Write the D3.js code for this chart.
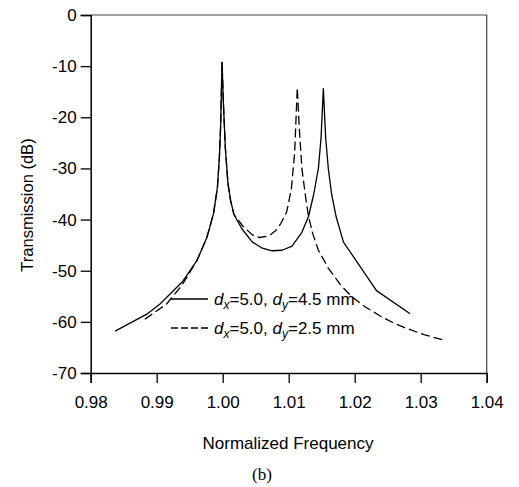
<!DOCTYPE html>
<html>
<head>
<meta charset="utf-8">
<script src="https://cdn.jsdelivr.net/npm/d3@7"></script>
<style>
  body { margin: 0; background: #fff; }
  svg { display: block; font-family: "Liberation Sans", Arial, sans-serif; }
</style>
</head>
<body>
<div id="chart"></div>
<script>
// 读图得到的数据: 归一化频率 / 传输 (dB)
const xTicks = [0.98, 0.99, 1.00, 1.01, 1.02, 1.03, 1.04];
const yTicks = [0, -10, -20, -30, -40, -50, -60, -70];

// d_x=5.0, d_y=4.5 mm (实线)
const solidF = [0.9837, 0.9885, 0.9905, 0.9940, 0.9961, 0.9976, 0.9986, 0.9992, 0.9995, 0.9997, 0.9999,
  1.0001, 1.0004, 1.0008, 1.0012, 1.0017, 1.0029, 1.0045, 1.0060, 1.0075, 1.0090, 1.0105, 1.0120, 1.0130,
  1.0138, 1.0145, 1.0149, 1.01525, 1.0156, 1.0160, 1.0165, 1.0172, 1.0183, 1.0233, 1.0284];
const solidDb = [-61.8, -58.5, -56.5, -52.0, -48.0, -43.5, -38.9, -33.7, -27.8, -21.2, -9.2,
  -17.0, -26.0, -33.0, -36.3, -39.0, -41.8, -44.4, -45.6, -46.1, -46.0, -45.2, -42.5, -39.4,
  -35.0, -30.0, -24.0, -14.4, -24.0, -30.0, -35.0, -39.5, -44.4, -53.9, -58.4];

// d_x=5.0, d_y=2.5 mm (虚线)
const dashF = [0.9882, 0.9915, 0.9938, 0.9961, 0.9976, 0.9986, 0.9992, 0.9995, 0.9997, 0.9999,
  1.0001, 1.0004, 1.0008, 1.0012, 1.0017, 1.0030, 1.0045, 1.0056, 1.0070, 1.0080, 1.0088, 1.0097,
  1.0104, 1.0109, 1.0113, 1.0116, 1.0120, 1.0125, 1.0130, 1.0137, 1.0145, 1.0160, 1.0180, 1.0195,
  1.0215, 1.0238, 1.0260, 1.0279, 1.0305, 1.0333];
const dashDb = [-59.5, -56.5, -52.9, -48.0, -43.5, -38.9, -33.7, -27.8, -21.2, -9.2,
  -17.0, -26.0, -33.0, -36.3, -39.0, -41.2, -43.0, -43.5, -43.2, -42.2, -40.8, -38.5,
  -34.0, -27.0, -14.2, -22.0, -30.0, -35.0, -39.4, -43.0, -46.0, -49.5, -53.0, -55.0,
  -57.0, -58.8, -60.3, -61.3, -62.5, -63.5];

const W = 519, H = 487;
const margin = { left: 90.7, right: 32.3, top: 15, bottom: 114 };

const svg = d3.select('#chart').append('svg')
  .attr('width', W)
  .attr('height', H);

const x = d3.scaleLinear().domain([0.98, 1.04]).range([margin.left, W - margin.right]);
const y = d3.scaleLinear().domain([-70, 0]).range([H - margin.bottom, margin.top]);

// 外框 (上, 右)
svg.append('path')
  .attr('d', `M${x(0.98)},${y(0)}H${x(1.04)}V${y(-70)}`)
  .attr('fill', 'none')
  .attr('stroke', '#444')
  .attr('stroke-width', 1.2);

// 坐标轴
const xAxis = svg.append('g')
  .attr('transform', `translate(0,${y(-70)})`)
  .call(d3.axisBottom(x).tickValues(xTicks).tickSize(10).tickPadding(13).tickFormat(d3.format('.2f')));
const yAxis = svg.append('g')
  .attr('transform', `translate(${x(0.98)},0)`)
  .call(d3.axisLeft(y).tickValues(yTicks).tickSize(10).tickPadding(4).tickFormat(d3.format('d')));

[xAxis, yAxis].forEach(g => {
  g.select('.domain').attr('stroke', '#000').attr('stroke-width', 1.5);
  g.selectAll('.tick line').attr('stroke', '#000').attr('stroke-width', 1.3);
  g.selectAll('.tick text')
    .attr('fill', '#000')
    .style('font-family', '"Liberation Sans", Arial, sans-serif')
    .style('font-size', '17px');
});
yAxis.selectAll('.tick text').text(d => d === 0 ? '0' : '-' + Math.abs(d));

// 曲线
const line = d3.line()
  .x(d => x(d[0]))
  .y(d => y(d[1]));

svg.append('path')
  .datum(d3.zip(solidF, solidDb))
  .attr('d', line)
  .attr('fill', 'none')
  .attr('stroke', '#000')
  .attr('stroke-width', 1.3)
  .attr('stroke-linejoin', 'round');

svg.append('path')
  .datum(d3.zip(dashF, dashDb))
  .attr('d', line)
  .attr('fill', 'none')
  .attr('stroke', '#000')
  .attr('stroke-width', 1.3)
  .attr('stroke-dasharray', '9,4');

// 图例
const legend = [
  { dy: '4.5', dash: null, ty: 299 },
  { dy: '2.5', dash: '7,3', ty: 328 }
];
legend.forEach(l => {
  svg.append('line')
    .attr('x1', 171).attr('x2', 208)
    .attr('y1', l.ty).attr('y2', l.ty)
    .attr('stroke', '#000')
    .attr('stroke-width', 1.3)
    .attr('stroke-dasharray', l.dash);
  const t = svg.append('text')
    .attr('x', 214).attr('y', l.ty + 6)
    .attr('font-size', 17)
    .attr('fill', '#000');
  t.append('tspan').attr('font-style', 'italic').text('d');
  t.append('tspan').attr('font-style', 'italic').attr('font-size', 12).attr('dy', 4).text('x');
  t.append('tspan').attr('dy', -4).text('=5.0, ');
  t.append('tspan').attr('font-style', 'italic').text('d');
  t.append('tspan').attr('font-style', 'italic').attr('font-size', 12).attr('dy', 4).text('y');
  t.append('tspan').attr('dy', -4).text('=' + l.dy + ' mm');
});

// 轴标题
svg.append('text')
  .attr('transform', `translate(33,205) rotate(-90)`)
  .attr('text-anchor', 'middle')
  .attr('font-size', 16.5)
  .text('Transmission (dB)');

svg.append('text')
  .attr('x', 288).attr('y', 449)
  .attr('text-anchor', 'middle')
  .attr('font-size', 17)
  .text('Normalized Frequency');

svg.append('text')
  .attr('x', 262).attr('y', 480)
  .attr('text-anchor', 'middle')
  .attr('font-size', 17)
  .style('font-family', '"Liberation Serif", "Times New Roman", serif')
  .text('(b)');
</script>
</body>
</html>
